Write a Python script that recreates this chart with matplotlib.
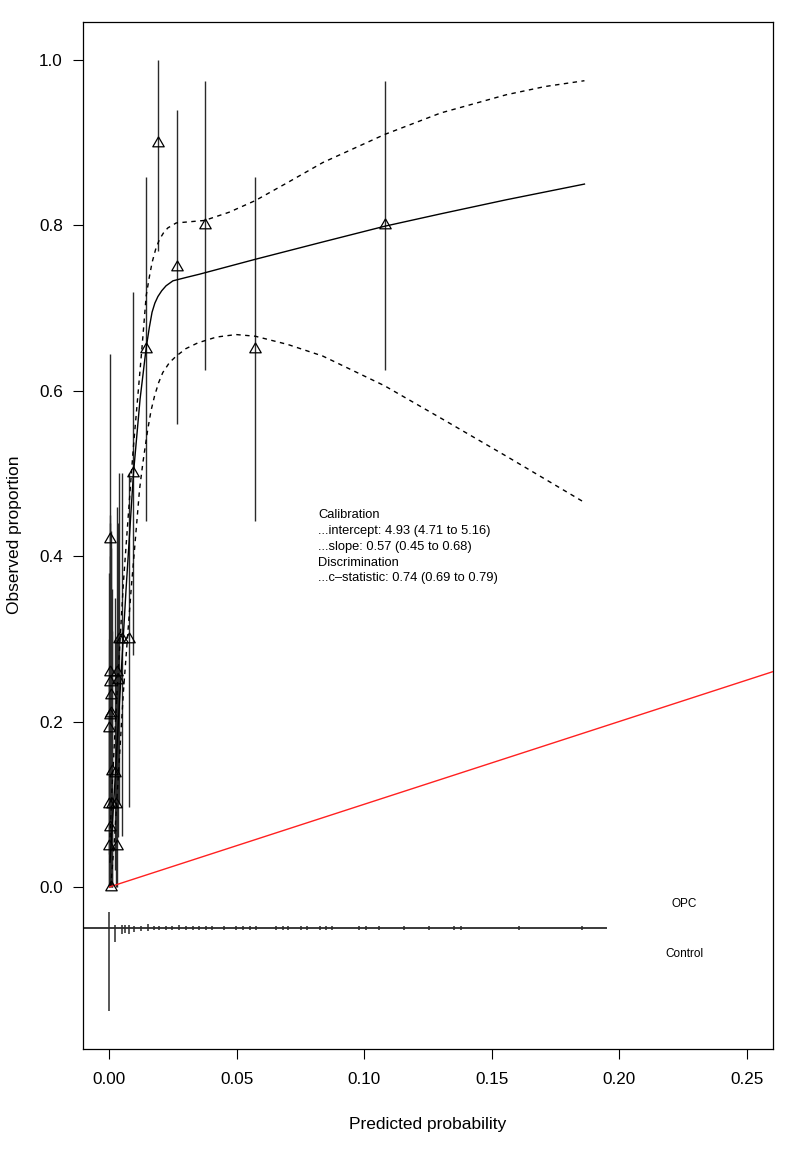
import matplotlib
matplotlib.use("Agg")
import matplotlib.pyplot as plt
import numpy as np

plt.rcParams['font.family'] = ['Liberation Sans', 'DejaVu Sans']

# ---------------- data ----------------
# grouped observations: predicted prob, observed proportion, CI
grp_pred = [0.0094, 0.0144, 0.0192, 0.0263, 0.0373, 0.0572, 0.1080,
            0.0003, 0.0001, 0.0035, 0.0004, 0.0002, 0.0000, 0.0022,
            0.0000, 0.0026, 0.0000, 0.0031, 0.0007, 0.0039, 0.0051,
            0.0075, 0.0001, 0.0001, 0.0029, 0.0005, 0.0008, 0.0010]
grp_obs = [0.50, 0.65, 0.90, 0.75, 0.80, 0.65, 0.80,
           0.421, 0.248, 0.25, 0.232, 0.208, 0.192, 0.138,
           0.10, 0.10, 0.049, 0.049, 0.0, 0.30, 0.30,
           0.30, 0.26, 0.073, 0.26, 0.21, 0.14, 0.10]
grp_lo = [0.281, 0.442, 0.769, 0.560, 0.625, 0.442, 0.625,
          0.22, 0.08, 0.06, 0.07, 0.05, 0.04, 0.02,
          0.0, 0.0, 0.0, 0.0, 0.0, 0.10, 0.061,
          0.097, 0.09, 0.0, 0.08, 0.04, 0.0, 0.0]
grp_hi = [0.719, 0.859, 1.0, 0.940, 0.975, 0.859, 0.975,
          0.644, 0.44, 0.44, 0.43, 0.40, 0.38, 0.35,
          0.30, 0.30, 0.25, 0.25, 0.17, 0.50, 0.50,
          0.50, 0.45, 0.27, 0.46, 0.41, 0.36, 0.31]

# flexible calibration curve and its confidence limits
curve_x = [0.0002, 0.0010, 0.0020, 0.0042, 0.0065, 0.0094, 0.0120, 0.0144,
           0.0156, 0.0167, 0.0178, 0.0190, 0.0205, 0.0222, 0.0249, 0.0300,
           0.0353, 0.0572, 0.0837, 0.1080, 0.1300, 0.1557, 0.1864]
curve_y = [0.03, 0.07, 0.12, 0.238, 0.36, 0.50, 0.59, 0.652,
           0.676, 0.695, 0.706, 0.714, 0.721, 0.727, 0.733, 0.737,
           0.741, 0.759, 0.780, 0.799, 0.814, 0.831, 0.850]
upper_x = [0.0002, 0.0010, 0.0030, 0.0055, 0.0081, 0.0094, 0.0111, 0.0128,
           0.0144, 0.0156, 0.0167, 0.0181, 0.0196, 0.0212, 0.0229, 0.0262,
           0.0373, 0.0470, 0.0572, 0.0700, 0.0837, 0.1080, 0.1300, 0.1557,
           0.1710, 0.1864]
upper_y = [0.06, 0.12, 0.238, 0.37, 0.48, 0.533, 0.593, 0.654,
           0.715, 0.737, 0.755, 0.771, 0.783, 0.791, 0.797, 0.803,
           0.806, 0.816, 0.830, 0.852, 0.876, 0.910, 0.936, 0.958,
           0.968, 0.975]
lower_x = [0.0005, 0.0020, 0.0055, 0.0085, 0.0118, 0.0131, 0.0150, 0.0163,
           0.0177, 0.0193, 0.0209, 0.0235, 0.0262, 0.0300, 0.0347, 0.0420,
           0.0497, 0.0572, 0.0700, 0.0837, 0.1080, 0.1300, 0.1557, 0.1864]
lower_y = [0.0, 0.06, 0.238, 0.36, 0.481, 0.513, 0.553, 0.576,
           0.594, 0.610, 0.622, 0.634, 0.642, 0.651, 0.658, 0.665,
           0.668, 0.666, 0.656, 0.642, 0.606, 0.567, 0.521, 0.465]

# ideal line
ideal_x = [0.0, 1.0]
ideal_y = [0.0, 1.0]

# distribution of predictions (bins; OPC upward, Control downward)
rug_x = [0.0, 0.00235, 0.00483, 0.00616, 0.00746, 0.00981, 0.01244, 0.01503,
         0.01727, 0.01962, 0.02198, 0.02461, 0.02747, 0.03010, 0.03269,
         0.03505, 0.03768, 0.04031, 0.04486, 0.04973, 0.05232, 0.05495,
         0.05757, 0.0654, 0.0679, 0.0701, 0.0752, 0.0777, 0.0826, 0.0849,
         0.0875, 0.0980, 0.1005, 0.1056, 0.1154, 0.1253, 0.1353, 0.1378,
         0.1606, 0.1856]
rug_up = [0.0194, 0.0045, 0.0040, 0.0040, 0.0040, 0.0032, 0.0032, 0.0048,
          0.0030, 0.0028, 0.0028, 0.0028, 0.0036, 0.0026, 0.0026,
          0.0026, 0.0026, 0.0026, 0.0032, 0.0026, 0.0026, 0.0026,
          0.0026, 0.0026, 0.0026, 0.0026, 0.0026, 0.0026, 0.0026, 0.0026,
          0.0026, 0.0026, 0.0026, 0.0026, 0.0026, 0.0026, 0.0026, 0.0026,
          0.0026, 0.0026]
rug_down = [0.100, 0.0165, 0.0070, 0.0060, 0.0070, 0.0045, 0.0036, 0.0028,
            0.0024, 0.0024, 0.0024, 0.0022, 0.0022, 0.0022, 0.0020,
            0.0020, 0.0020, 0.0020, 0.0020, 0.0020, 0.0020, 0.0020,
            0.0020, 0.0020, 0.0020, 0.0020, 0.0020, 0.0020, 0.0020, 0.0020,
            0.0020, 0.0020, 0.0020, 0.0020, 0.0020, 0.0020, 0.0020, 0.0020,
            0.0020, 0.0020]
rug_level = -0.05
rug_range = [-0.01, 0.195]

stats_lines = ["Calibration",
               "...intercept: 4.93 (4.71 to 5.16)",
               "...slope: 0.57 (0.45 to 0.68)",
               "Discrimination",
               "...c\u2013statistic: 0.74 (0.69 to 0.79)"]

x_ticks = [0.00, 0.05, 0.10, 0.15, 0.20, 0.25]
x_ticklabels = ["0.00", "0.05", "0.10", "0.15", "0.20", "0.25"]
y_ticks = [0.0, 0.2, 0.4, 0.6, 0.8, 1.0]
y_ticklabels = ["0.0", "0.2", "0.4", "0.6", "0.8", "1.0"]

# ---------------- plot ----------------
fig = plt.figure(figsize=(8.08, 11.53), dpi=100)
ax = fig.add_axes([83 / 808, 1 - 1049 / 1153, (773 - 83) / 808, (1049 - 22) / 1153])

ax.set_xlim(-0.0104, 0.2604)
ax.set_ylim(-0.196, 1.046)

# CI lines of groups
ax.vlines(grp_pred, grp_lo, grp_hi, color='#2a2a2a', lw=1.0, zorder=2)

# triangles
tri = [(0, 0.577), (-0.5, -0.289), (0.5, -0.289), (0, 0.577)]
ax.plot(grp_pred, grp_obs, linestyle='none', marker=tri, markersize=9.5,
        markerfacecolor='none', markeredgecolor='black', markeredgewidth=0.9,
        zorder=4)

# flexible calibration curve
ax.plot(curve_x, curve_y, color='black', lw=1.0, zorder=3)
ax.plot(upper_x, upper_y, color='black', lw=1.0, linestyle=(0, (3.2, 3.2)), zorder=3)
ax.plot(lower_x, lower_y, color='black', lw=1.0, linestyle=(0, (3.2, 3.2)), zorder=3)

# ideal line
ax.plot(ideal_x, ideal_y, color='#ff2020', lw=1.0, zorder=3)

# distribution of predictions
ax.plot(rug_range, [rug_level, rug_level], color='#3a3a3a', lw=1.4, zorder=2)
ax.vlines(rug_x, rug_level, [rug_level + u for u in rug_up], color='#2a2a2a', lw=1.1, zorder=2)
ax.vlines(rug_x, [rug_level - d for d in rug_down], rug_level, color='#2a2a2a', lw=1.1, zorder=2)
ax.text(0.2255, -0.0206, "OPC", fontsize=8.5, ha='center', va='center')
ax.text(0.2255, -0.081, "Control", fontsize=8.5, ha='center', va='center')

# statistics text
y0 = 0.4495
dy = 0.0191
for i, s in enumerate(stats_lines):
    ax.text(0.0818, y0 - i * dy, s, fontsize=9.3, ha='left', va='center')

# axes styling
ax.set_xticks(x_ticks)
ax.set_xticklabels(x_ticklabels)
ax.set_yticks(y_ticks)
ax.set_yticklabels(y_ticklabels)
ax.tick_params(axis='both', direction='out', length=7, width=0.8,
               labelsize=12.3, colors='black')
ax.tick_params(axis='x', pad=9.5)
ax.tick_params(axis='y', pad=7.5)
for sp in ax.spines.values():
    sp.set_linewidth(0.9)
    sp.set_color('black')

fig.text(428 / 808, 1 - 1125 / 1153, "Predicted probability", fontsize=12.5,
         ha='center', va='center')
fig.text(15 / 808, 1 - 535 / 1153, "Observed proportion", fontsize=12.5,
         ha='center', va='center', rotation=90)

fig.savefig("out.png", dpi=100)
